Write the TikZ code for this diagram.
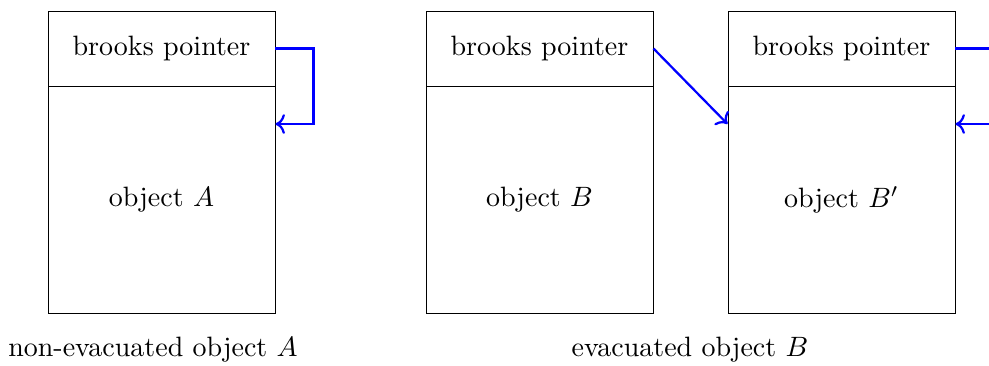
\documentclass[tikz,border=0pt]{standalone}
\usetikzlibrary{arrows.meta}
\begin{document}
\begin{tikzpicture}[x=0.357pt,y=-0.357pt,
  hdr/.style={draw=black,line width=0.35pt,minimum width={227*0.357pt},minimum height={75*0.357pt},inner sep=0pt,font=\fontsize{10}{12}\selectfont},
  body/.style={draw=black,line width=0.35pt,minimum width={227*0.357pt},minimum height={227*0.357pt},inner sep=0pt,font=\fontsize{10}{12}\selectfont},
  wire/.style={draw=blue,line width=0.8pt},
  ptr/.style={wire,->},
  lbl/.style={inner sep=0pt,font=\fontsize{10}{12}\selectfont}]
\useasboundingbox (0,0) rectangle (989,365);
\node[hdr]  (ha) at (161.5,48.5) {brooks pointer};
\node[body] (ba) at (161.5,199.5) {object $A$};
\node[hdr]  (hb) at (539.5,48.5) {brooks pointer};
\node[body] (bb) at (539.5,199.5) {object $B$};
\node[hdr]  (hc) at (841.5,48.5) {brooks pointer};
\node[body] (bc) at (841.5,199.5) {object $B'$};
\node[lbl] (la) at (153,350) {non-evacuated object $A$};
\node[lbl] (lb) at (690,350) {evacuated object $B$};
\coordinate (ta) at (ba.east |- 0,124);
\draw[ptr] (ha.east) -- ++(38,0) |- (ta);
\coordinate (tb) at (bc.west |- 0,124);
\draw[ptr] (hb.east) -- (tb);
\coordinate (outc) at (hc.east -| 995,0);
\coordinate (inc) at (995,124);
\coordinate (tc) at (bc.east |- 0,124);
\draw[wire] (hc.east) -- (outc);
\draw[ptr] (inc) -- (tc);
\end{tikzpicture}
\end{document}
